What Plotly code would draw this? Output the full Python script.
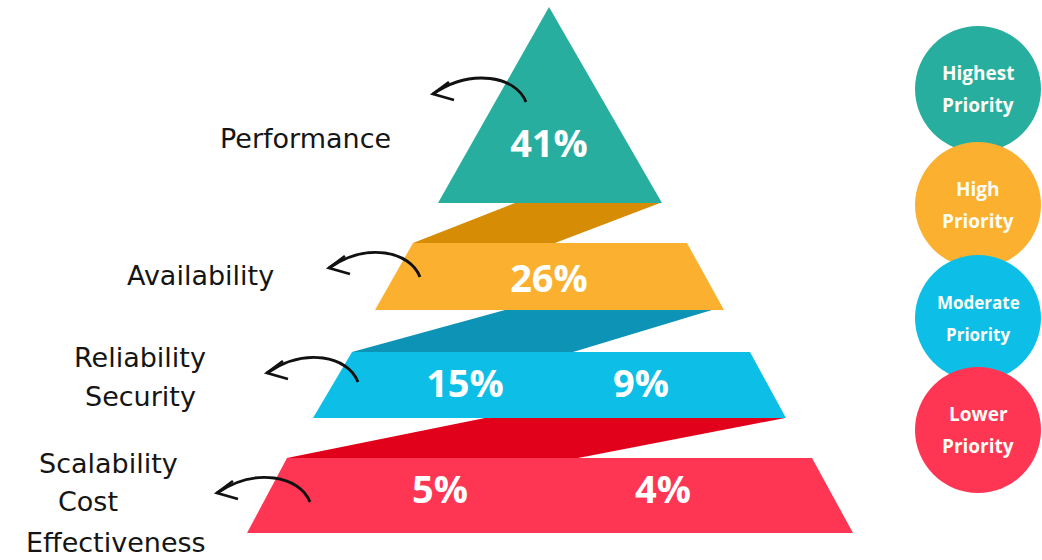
import plotly.graph_objects as go

# Share of respondents naming each concern, grouped into priority tiers (top tier first)
tiers = ["Highest Priority", "High Priority", "Moderate Priority", "Lower Priority"]
tier_names = [["Highest", "Priority"], ["High", "Priority"], ["Moderate", "Priority"], ["Lower", "Priority"]]
concerns = ["Performance", "Availability", "Reliability", "Security", "Scalability", "Cost Effectiveness"]
shares = [41, 26, 15, 9, 5, 4]
concern_tier = [0, 1, 2, 2, 3, 3]
tier_captions = [["Performance"], ["Availability"], ["Reliability", "Security"],
                 ["Scalability", "Cost", "Effectiveness"]]

# Styling
tier_colors = ["#28AE9F", "#FBB12F", "#0DBFE7", "#FE3553"]
fold_colors = [None, "#D68C05", "#0C93B6", "#E1011B"]
circle_colors = ["#28AE9F", "#FBB12F", "#0DBFE7", "#FE3553"]

W, H = 1042, 560

# Pyramid geometry (pixel space, y grows downward)
tier_shapes = [
    [(549, 7), (662, 203), (438, 203)],
    [(413, 243), (687, 243), (724, 310), (375, 310)],
    [(352, 352), (750, 352), (786, 418), (313, 418)],
    [(287, 458), (812, 458), (853, 533), (247, 533)],
]
fold_shapes = [
    None,
    [(413, 243), (515, 203), (660, 203), (555, 243)],
    [(352, 352), (505, 310), (712, 310), (573, 352)],
    [(287, 458), (485, 418), (785, 418), (578, 458)],
]
# Where the percentage of each concern sits
value_pos = [(549, 147), (549, 282), (465, 387), (641, 387), (440, 493), (663, 493)]
# Caption line positions for each tier
caption_pos = [
    [(305, 138)],
    [(200, 275)],
    [(140, 357), (140, 396)],
    [(108, 463), (88, 501), (116, 542)],
]
# Curved pointers: tail on the tier, head near the caption
arrows = [((526, 102), (433, 94)), ((420, 277), (329, 268)),
          ((358, 382), (267, 373)), ((310, 502), (217, 493))]
# Priority badges
badge_x, badge_r = 978, 63
badge_y = [89, 205, 318, 430]

fig = go.Figure()

for i in range(len(tiers)):
    if fold_shapes[i] is not None:
        xs, ys = zip(*fold_shapes[i])
        fig.add_trace(go.Scatter(x=list(xs) + [xs[0]], y=list(ys) + [ys[0]], mode="lines",
                                 fill="toself", fillcolor=fold_colors[i],
                                 line=dict(width=0, color=fold_colors[i]), hoverinfo="skip"))
    xs, ys = zip(*tier_shapes[i])
    fig.add_trace(go.Scatter(x=list(xs) + [xs[0]], y=list(ys) + [ys[0]], mode="lines",
                             fill="toself", fillcolor=tier_colors[i],
                             line=dict(width=0, color=tier_colors[i]),
                             name=tiers[i], hoverinfo="name"))

# Percentages on the pyramid
fig.add_trace(go.Scatter(
    x=[p[0] for p in value_pos], y=[p[1] for p in value_pos], mode="text",
    text=[f"{v}%" for v in shares], customdata=concerns,
    textfont=dict(family="Open Sans", size=38, color="white", weight=700),
    hovertemplate="%{customdata}: %{text}<extra></extra>"))

shapes = []
annotations = []

# Priority badges, later ones overlapping the earlier ones
for i, cy in enumerate(badge_y):
    shapes.append(dict(type="circle", xref="x", yref="y",
                       x0=badge_x - badge_r, x1=badge_x + badge_r,
                       y0=cy - badge_r, y1=cy + badge_r,
                       fillcolor=circle_colors[i], line=dict(width=0), layer="above"))
    for j, word in enumerate(tier_names[i]):
        annotations.append(dict(x=badge_x, y=cy - 16 + j * 32, xref="x", yref="y",
                                text=word, showarrow=False,
                                font=dict(family="Open Sans", size=19 if i != 2 else 17,
                                          color="#FDFDF5", weight=700)))

# Tier captions
for i, lines in enumerate(tier_captions):
    for line, (cx, cy) in zip(lines, caption_pos[i]):
        annotations.append(dict(x=cx, y=cy, xref="x", yref="y", text=line, showarrow=False,
                                font=dict(family="DejaVu Sans", size=27, color="#151515")))

# Curved pointers
for (tx, ty), (hx, hy) in arrows:
    path = f"M {tx} {ty} C {tx - 10} {ty - 26}, {hx + 38} {hy - 26}, {hx} {hy}"
    shapes.append(dict(type="path", xref="x", yref="y", path=path,
                       line=dict(color="#111111", width=2.8), layer="above"))
    head = f"M {hx + 16} {hy - 12} L {hx} {hy} L {hx + 21} {hy + 6}"
    shapes.append(dict(type="path", xref="x", yref="y", path=head,
                       line=dict(color="#111111", width=2.8), layer="above"))

fig.update_layout(
    width=W, height=H, margin=dict(l=0, r=0, t=0, b=0),
    paper_bgcolor="white", plot_bgcolor="white", showlegend=False,
    xaxis=dict(range=[0, W], visible=False, fixedrange=True),
    yaxis=dict(range=[H, 0], visible=False, fixedrange=True),
    shapes=shapes, annotations=annotations,
)

fig.write_html("out.html")
